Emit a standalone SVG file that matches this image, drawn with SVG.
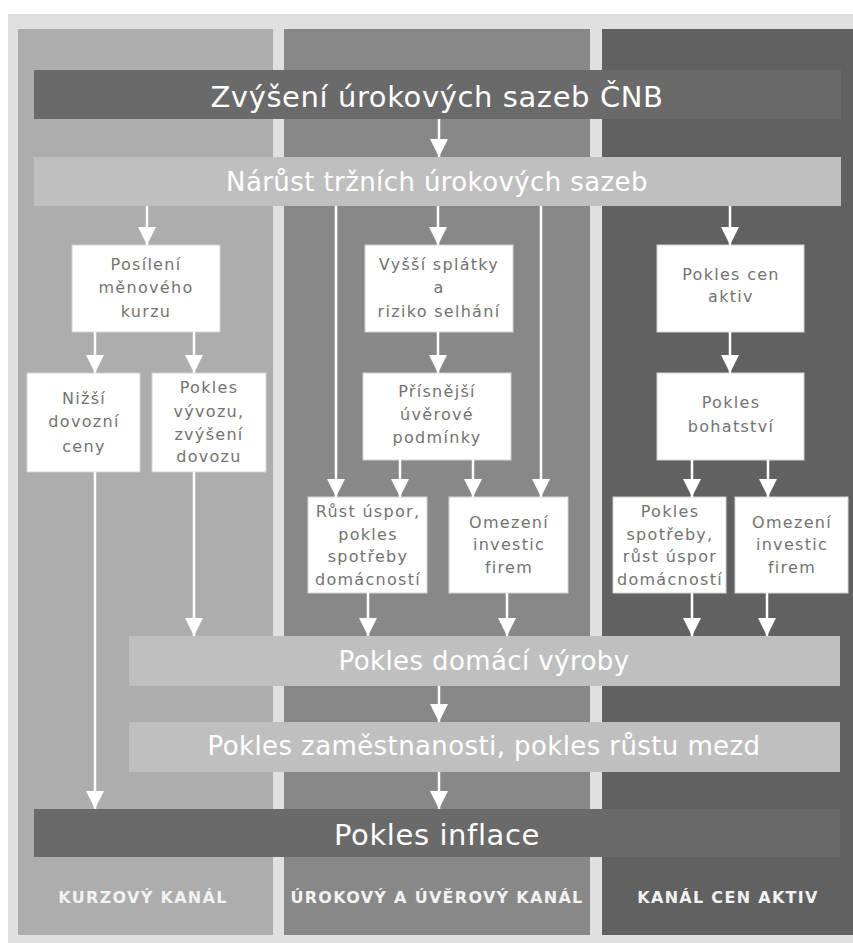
<svg xmlns="http://www.w3.org/2000/svg" width="853" height="943" viewBox="0 0 853 943">
<style>
.box{fill:#ffffff;stroke:#d4d4d4;stroke-width:1}
.bt{font-family:"DejaVu Sans",Verdana,sans-serif;font-size:16px;letter-spacing:1.3px;fill:#737373;text-anchor:middle}
.dark{fill:#6a6a6a}
.light{fill:#bfbfbf}
.big{font-family:"DejaVu Sans",Verdana,sans-serif;font-size:29px;letter-spacing:0.6px;fill:#ffffff;text-anchor:middle}
.mid{font-family:"DejaVu Sans",Verdana,sans-serif;font-size:26px;letter-spacing:0.4px;fill:#ffffff;text-anchor:middle}
.lab{font-family:"DejaVu Sans",Verdana,sans-serif;font-size:16px;font-weight:bold;letter-spacing:1.3px;fill:#f2f2f2;text-anchor:middle}
.c line{stroke:#ffffff;stroke-width:2.5;marker-end:url(#ah)}
</style>
<defs>
<marker id="ah" markerUnits="userSpaceOnUse" markerWidth="18" markerHeight="18" refX="18" refY="9" orient="auto" viewBox="0 0 18 18">
<path d="M0,0 L18,9 L0,18 z" fill="#ffffff"/>
</marker>
</defs>
<rect x="0" y="0" width="853" height="943" fill="#ffffff"/>
<rect x="8" y="14" width="845" height="929" fill="#e0e0e0"/>
<g id="columns">
<rect x="18" y="29" width="255" height="906" fill="#adadad"/>
<rect x="284" y="29" width="306" height="906" fill="#888888"/>
<rect x="602" y="29" width="251" height="906" fill="#616161"/>
</g>
<g id="n_zvyseni"><rect class="dark" x="34" y="70" width="807" height="49"/><text class="big" x="437" y="107">Zvýšení úrokových sazeb ČNB</text></g>
<g id="n_narust"><rect class="light" x="34" y="157" width="807" height="49"/><text class="mid" x="437" y="191">Nárůst tržních úrokových sazeb</text></g>
<g id="n_posileni"><rect class="box" x="72" y="245" width="148" height="87"/><text class="bt" x="146" y="270">Posílení</text><text class="bt" x="146" y="293">měnového</text><text class="bt" x="146" y="317">kurzu</text></g>
<g id="n_nizsi"><rect class="box" x="27" y="373" width="113" height="99"/><text class="bt" x="84" y="404">Nižší</text><text class="bt" x="84" y="427">dovozní</text><text class="bt" x="84" y="452">ceny</text></g>
<g id="n_vyvoz"><rect class="box" x="152" y="373" width="114" height="99"/><text class="bt" x="209" y="393">Pokles</text><text class="bt" x="209" y="417">vývozu,</text><text class="bt" x="209" y="440">zvýšení</text><text class="bt" x="209" y="462">dovozu</text></g>
<g id="n_vyssi"><rect class="box" x="365" y="245" width="148" height="87"/><text class="bt" x="439" y="270">Vyšší splátky</text><text class="bt" x="439" y="293">a</text><text class="bt" x="439" y="317">riziko selhání</text></g>
<g id="n_prisnejsi"><rect class="box" x="363" y="373" width="148" height="87"/><text class="bt" x="437" y="397">Přísnější</text><text class="bt" x="437" y="420">úvěrové</text><text class="bt" x="437" y="443">podmínky</text></g>
<g id="n_rust"><rect class="box" x="308" y="497" width="119" height="96"/><text class="bt" x="368" y="517">Růst úspor,</text><text class="bt" x="368" y="540">pokles</text><text class="bt" x="368" y="562">spotřeby</text><text class="bt" x="368" y="585">domácností</text></g>
<g id="n_omezeni1"><rect class="box" x="449" y="497" width="119" height="96"/><text class="bt" x="509" y="528">Omezení</text><text class="bt" x="509" y="550">investic</text><text class="bt" x="509" y="573">firem</text></g>
<g id="n_ceny"><rect class="box" x="657" y="245" width="147" height="87"/><text class="bt" x="731" y="280">Pokles cen</text><text class="bt" x="731" y="302">aktiv</text></g>
<g id="n_bohatstvi"><rect class="box" x="657" y="373" width="147" height="87"/><text class="bt" x="731" y="408">Pokles</text><text class="bt" x="731" y="432">bohatství</text></g>
<g id="n_spotreba"><rect class="box" x="613" y="497" width="113" height="96"/><text class="bt" x="670" y="517">Pokles</text><text class="bt" x="670" y="540">spotřeby,</text><text class="bt" x="670" y="562">růst úspor</text><text class="bt" x="670" y="585">domácností</text></g>
<g id="n_omezeni2"><rect class="box" x="735" y="497" width="113" height="96"/><text class="bt" x="792" y="528">Omezení</text><text class="bt" x="792" y="550">investic</text><text class="bt" x="792" y="573">firem</text></g>
<g id="n_domaci"><rect class="light" x="129" y="636" width="711" height="50"/><text class="mid" x="484" y="670">Pokles domácí výroby</text></g>
<g id="n_zamestnanost"><rect class="light" x="129" y="722" width="711" height="50"/><text class="mid" x="484" y="755">Pokles zaměstnanosti, pokles růstu mezd</text></g>
<g id="n_inflace"><rect class="dark" x="34" y="809" width="806" height="48"/><text class="big" x="437" y="845">Pokles inflace</text></g>
<g id="labels">
<text class="lab" x="143" y="903">KURZOVÝ KANÁL</text>
<text class="lab" x="437" y="903">ÚROKOVÝ A ÚVĚROVÝ KANÁL</text>
<text class="lab" x="728" y="903">KANÁL CEN AKTIV</text>
</g>
<g id="connectors" class="c">
<line x1="439" y1="119" x2="439" y2="157"/>
<line x1="147" y1="206" x2="147" y2="245"/>
<line x1="95" y1="332" x2="95" y2="373"/>
<line x1="194" y1="332" x2="194" y2="373"/>
<line x1="95" y1="472" x2="95" y2="809"/>
<line x1="194" y1="472" x2="194" y2="636"/>
<line x1="438" y1="206" x2="438" y2="245"/>
<line x1="438" y1="332" x2="438" y2="373"/>
<line x1="336" y1="206" x2="336" y2="497"/>
<line x1="541" y1="206" x2="541" y2="497"/>
<line x1="400" y1="460" x2="400" y2="497"/>
<line x1="473" y1="460" x2="473" y2="497"/>
<line x1="368" y1="593" x2="368" y2="636"/>
<line x1="507" y1="593" x2="507" y2="636"/>
<line x1="730" y1="206" x2="730" y2="245"/>
<line x1="730" y1="332" x2="730" y2="373"/>
<line x1="692" y1="460" x2="692" y2="497"/>
<line x1="768" y1="460" x2="768" y2="497"/>
<line x1="692" y1="593" x2="692" y2="636"/>
<line x1="767" y1="593" x2="767" y2="636"/>
<line x1="439" y1="686" x2="439" y2="722"/>
<line x1="439" y1="772" x2="439" y2="809"/>
</g>
</svg>
